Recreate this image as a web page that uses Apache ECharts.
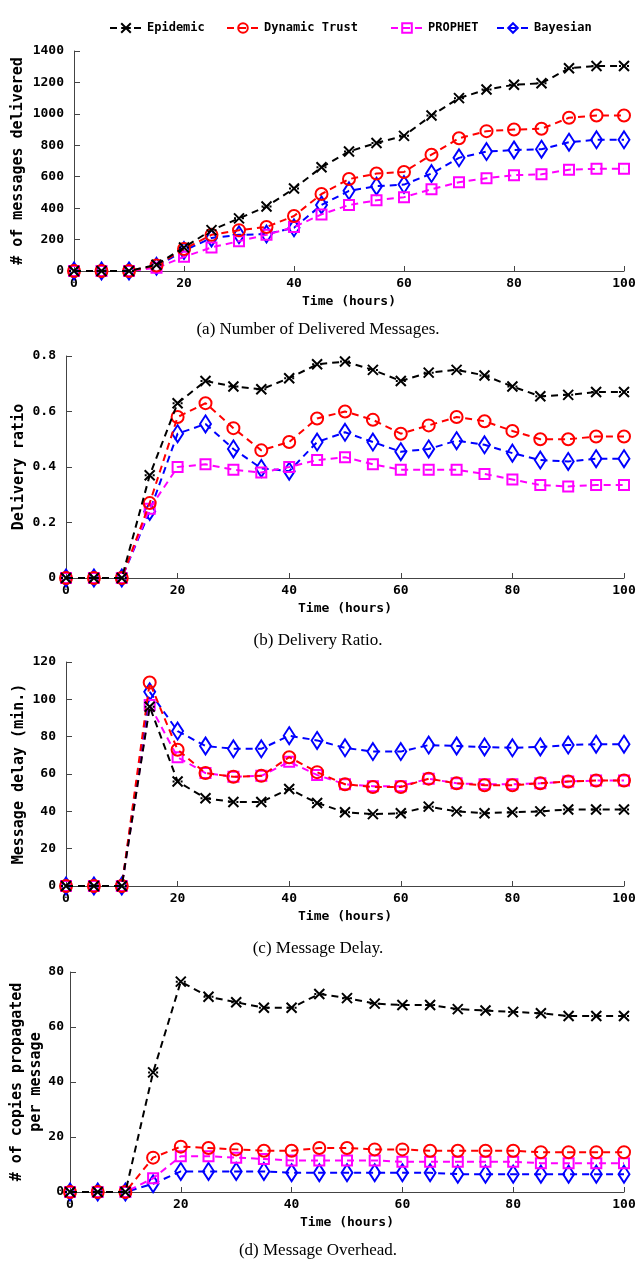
<!DOCTYPE html>
<html>
<head>
<meta charset="utf-8">
<script src="https://cdn.jsdelivr.net/npm/echarts@6/dist/echarts.min.js"></script>
<style>
html,body{margin:0;padding:0;background:#fff;}
#chart{width:636px;height:1264px;}
</style>
</head>
<body>
<div id="chart"></div>
<script>
// ---- data ----
const hours = [0,5,10,15,20,25,30,35,40,45,50,55,60,65,70,75,80,85,90,95,100];
const seriesNames = ['Epidemic','Dynamic Trust','PROPHET','Bayesian'];

// (a) Number of delivered messages
const deliveredEpidemic = [0,0,0,40,150,260,335,410,525,660,760,815,860,990,1100,1155,1185,1195,1290,1305,1305];
const deliveredTrust    = [0,0,0,35,140,230,260,280,350,490,585,620,630,740,845,890,900,905,975,990,990];
const deliveredProphet  = [0,0,0,20,90,150,190,230,280,360,420,450,470,520,565,590,610,615,645,650,650];
const deliveredBayes    = [0,0,0,30,130,210,230,235,275,420,510,540,550,620,720,760,770,775,820,835,835];

// (b) Delivery ratio
const ratioEpidemic = [0,0,0,0.37,0.63,0.71,0.69,0.68,0.72,0.77,0.78,0.75,0.71,0.74,0.75,0.73,0.69,0.655,0.66,0.67,0.67];
const ratioTrust    = [0,0,0,0.27,0.58,0.63,0.54,0.46,0.49,0.575,0.60,0.57,0.52,0.55,0.58,0.565,0.53,0.50,0.50,0.51,0.51];
const ratioProphet  = [0,0,0,0.25,0.40,0.41,0.39,0.38,0.40,0.425,0.435,0.41,0.39,0.39,0.39,0.375,0.355,0.335,0.33,0.335,0.335];
const ratioBayes    = [0,0,0,0.24,0.52,0.555,0.465,0.395,0.385,0.49,0.525,0.49,0.455,0.465,0.495,0.48,0.45,0.425,0.42,0.43,0.43];

// (c) Message delay (min.)
const delayEpidemic = [0,0,0,96,56,47,45,45,52,44.5,39.5,38.5,39,42.5,40,39,39.5,40,41,41,41];
const delayTrust    = [0,0,0,109,73,60.5,58.5,59,69,61,54.5,53,53,57.5,55,54,54,55,56,56.5,56.5];
const delayProphet  = [0,0,0,97,69,60.5,58.5,59,66.5,59.5,54.5,53.5,53.5,57.5,55,54.5,54.5,55,56,56.5,56.5];
const delayBayes    = [0,0,0,104,83,75,73.5,73.5,80.5,78,74,72,72,75.5,75,74.5,74,74.5,75.5,76,76];

// (d) Message overhead (# of copies per message)
const overheadEpidemic = [0,0,0,43.5,76.5,71,69,67,67,72,70.5,68.5,68,68,66.5,66,65.5,65,64,64,64];
const overheadTrust    = [0,0,0,12.5,16.5,16,15.5,15,15,16,16,15.5,15.5,15,15,15,15,14.5,14.5,14.5,14.5];
const overheadProphet  = [0,0,0,5,13,13,12.5,12,11.5,11.5,11.5,11.5,11,11,11,11,11,10.5,10.5,10.5,10.5];
const overheadBayes    = [0,0,0,3,7.5,7.5,7.5,7.5,7,7,7,7,7,7,6.5,6.5,6.5,6.5,6.5,6.5,6.5];

// axis settings
const yMax = [1400, 0.8, 120, 80];
const yInterval = [200, 0.2, 20, 20];
const yNames = ['# of messages delivered','Delivery ratio','Message delay (min.)','# of copies propagated\nper message'];
const captions = ['(a) Number of Delivered Messages.','(b) Delivery Ratio.','(c) Message Delay.','(d) Message Overhead.'];

const panels = [
  [deliveredEpidemic, deliveredTrust, deliveredProphet, deliveredBayes],
  [ratioEpidemic, ratioTrust, ratioProphet, ratioBayes],
  [delayEpidemic, delayTrust, delayProphet, delayBayes],
  [overheadEpidemic, overheadTrust, overheadProphet, overheadBayes]
];

// ---- layout / styles ----
const grids = [
  {left:74, top:51, width:550, height:220, outerBoundsMode:'none', containLabel:false},
  {left:66, top:356, width:558, height:222, outerBoundsMode:'none', containLabel:false},
  {left:66, top:662, width:558, height:224, outerBoundsMode:'none', containLabel:false},
  {left:70, top:972, width:554, height:220, outerBoundsMode:'none', containLabel:false}
];
const nameGaps = [45, 36, 36, 24];
const nameLineHeights = [21, 21, 21, 19];
const labelMargins = [10, 10, 10, 6];
const captionY = [329, 640, 948, 1250];
const colors = ['#000000','#ff0000','#ff00ff','#0000ff'];
const symbols = ['path://M0,0L10,10M10,0L0,10M0,5L2,5M8,5L10,5', 'circle', 'rect', 'diamond'];
const symbolSizes = [10, 12, 10, [11,17]];
const mono = 'DejaVu Sans Mono';

const option = {
  animation:false,
  backgroundColor:'#fff',
  grid: grids,
  xAxis: grids.map((g,i)=>({
    type:'value', gridIndex:i, min:0, max:100, interval:20,
    name:'Time (hours)', nameLocation:'middle', nameGap:24, nameMoveOverlap:false,
    nameTextStyle:{fontFamily:mono, fontSize:13, fontWeight:'bold', color:'#000'},
    axisLine:{lineStyle:{color:'#444', width:1}},
    axisTick:{inside:true, length:5, lineStyle:{color:'#444'}},
    axisLabel:{fontFamily:mono, fontSize:13, fontWeight:'bold', color:'#000', margin:6},
    splitLine:{show:false}
  })),
  yAxis: grids.map((g,i)=>({
    type:'value', gridIndex:i, min:0, max:yMax[i], interval:yInterval[i],
    name:yNames[i], nameLocation:'middle', nameGap:nameGaps[i], nameRotate:90, nameMoveOverlap:false,
    nameTextStyle:{fontFamily:mono, fontSize:15, fontWeight:'bold', color:'#000', lineHeight:nameLineHeights[i]},
    axisLine:{show:true, lineStyle:{color:'#444', width:1}},
    axisTick:{show:true, inside:true, length:6, lineStyle:{color:'#444'}},
    axisLabel:{fontFamily:mono, fontSize:13, fontWeight:'bold', color:'#000', margin:labelMargins[i],
      formatter:(v)=> v===0 ? '0' : (i===1 ? v.toFixed(1) : String(v))},
    splitLine:{show:false}
  })),
  legend: seriesNames.map((n,k)=>({
    data:[n], top:17, left:[104,221,385,491][k],
    itemWidth:32, itemHeight:12,
    textStyle:{fontFamily:mono, fontSize:12, fontWeight:'bold', color:'#000'},
    selectedMode:false
  })),
  series: [],
  graphic: captions.map((c,i)=>({
    type:'text', left:'center', top:captionY[i]-8,
    style:{text:c, font:'17px "Liberation Serif"', fill:'#000'}
  }))
};

panels.forEach((arrs,i)=>{
  arrs.forEach((arr,k)=>{
    option.series.push({
      name:seriesNames[k], type:'line', xAxisIndex:i, yAxisIndex:i,
      data: hours.map((h,j)=>[h, arr[j]]),
      symbol:symbols[k], symbolSize:symbolSizes[k], showAllSymbol:true,
      z: 10-k,
      lineStyle:{color:colors[k], width:2, type:[7,5]},
      itemStyle:{color:'rgba(0,0,0,0)', borderColor:colors[k], borderWidth:2},
      emphasis:{disabled:true}
    });
  });
});

const chart = echarts.init(document.getElementById('chart'), null, {renderer:'canvas'});
chart.setOption(option);
</script>
</body>
</html>
